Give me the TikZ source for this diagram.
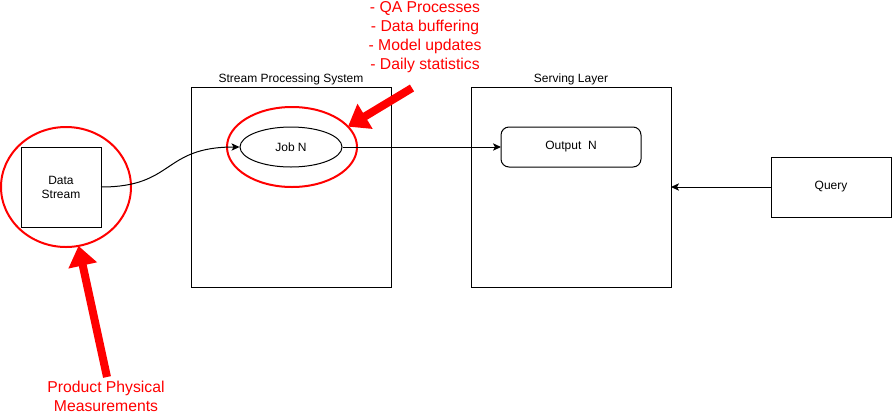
\documentclass[tikz,border=0pt]{standalone}
\usepackage{fontspec}
\setmainfont{Liberation Sans}
\usetikzlibrary{
	arrows.meta,
	shapes.geometric
}

\begin{document}
\begin{tikzpicture}[
	x=0.75pt, y=-0.75pt,
	font=\fontsize{9}{10.5}\selectfont,
	box/.style args = {#1 and #2}{
		rectangle, draw, line width=0.75pt,
		inner sep=0pt, outer sep=0pt,
		minimum width=#1, minimum height=#2
	},
	layer/.style = {
		box={150pt and 150pt},
		label={[inner sep=1pt]above:#1}
	},
	ring/.style args = {#1 and #2}{
		ellipse, draw=red, line width=1.5pt,
		inner sep=0pt, outer sep=0pt,
		minimum width=#1, minimum height=#2
	},
	note/.style = {
		text=red, align=center,
		font=\fontsize{11.8}{14.25}\selectfont
	},
	link/.style = {
		line width=0.75pt,
		-{Stealth[length=6pt,width=5.5pt,inset=1.5pt]}
	},
	bigarrow/.style = {
		draw=red, line width=6pt,
		-{Triangle[length=15pt,width=21pt]}
	}
]
	\useasboundingbox (0,0) rectangle (892,415);

	\node (ds) [box={60pt and 60pt}, align=center] at (61,187) {Data\\Stream};
	\node (sps) [layer={Stream Processing System}] at (291,187) {};
	\node (job) [ellipse, draw, line width=0.75pt, inner sep=0pt,
		minimum width=76.5pt, minimum height=30pt] at (291,147) {Job N};
	\node (sl) [layer={Serving Layer}] at (571,187) {};
	\node (out) [box={105pt and 30pt}, rounded corners=6pt] at (571,147) {Output~~N};
	\node (qry) [box={90pt and 45pt}] at (831,187) {Query};

	\node (dsring) [ring={97.5pt and 90pt}] at (66,187) {};
	\node (jobring) [ring={97.5pt and 60pt}] at (292,147) {};

	\draw [link] (ds.east) .. controls (175,187) and (162,147) .. (job.west);
	\draw [link] (job.east) -- (out.west);
	\draw [link] (qry.west) -- (sl.east);

	\node (tasks) [note] at (425,37) {- QA Processes\\- Data buffering\\- Model updates\\- Daily statistics};
	\node (meas) [note] at (106,396) {Product Physical\\Measurements};

	\coordinate (tailA) at (412,88);
	\coordinate (tailB) at (107,377);
	\draw [bigarrow] (tailA) -- (jobring.20);
	\draw [bigarrow] (tailB) -- (dsring.-78);
\end{tikzpicture}
\end{document}
